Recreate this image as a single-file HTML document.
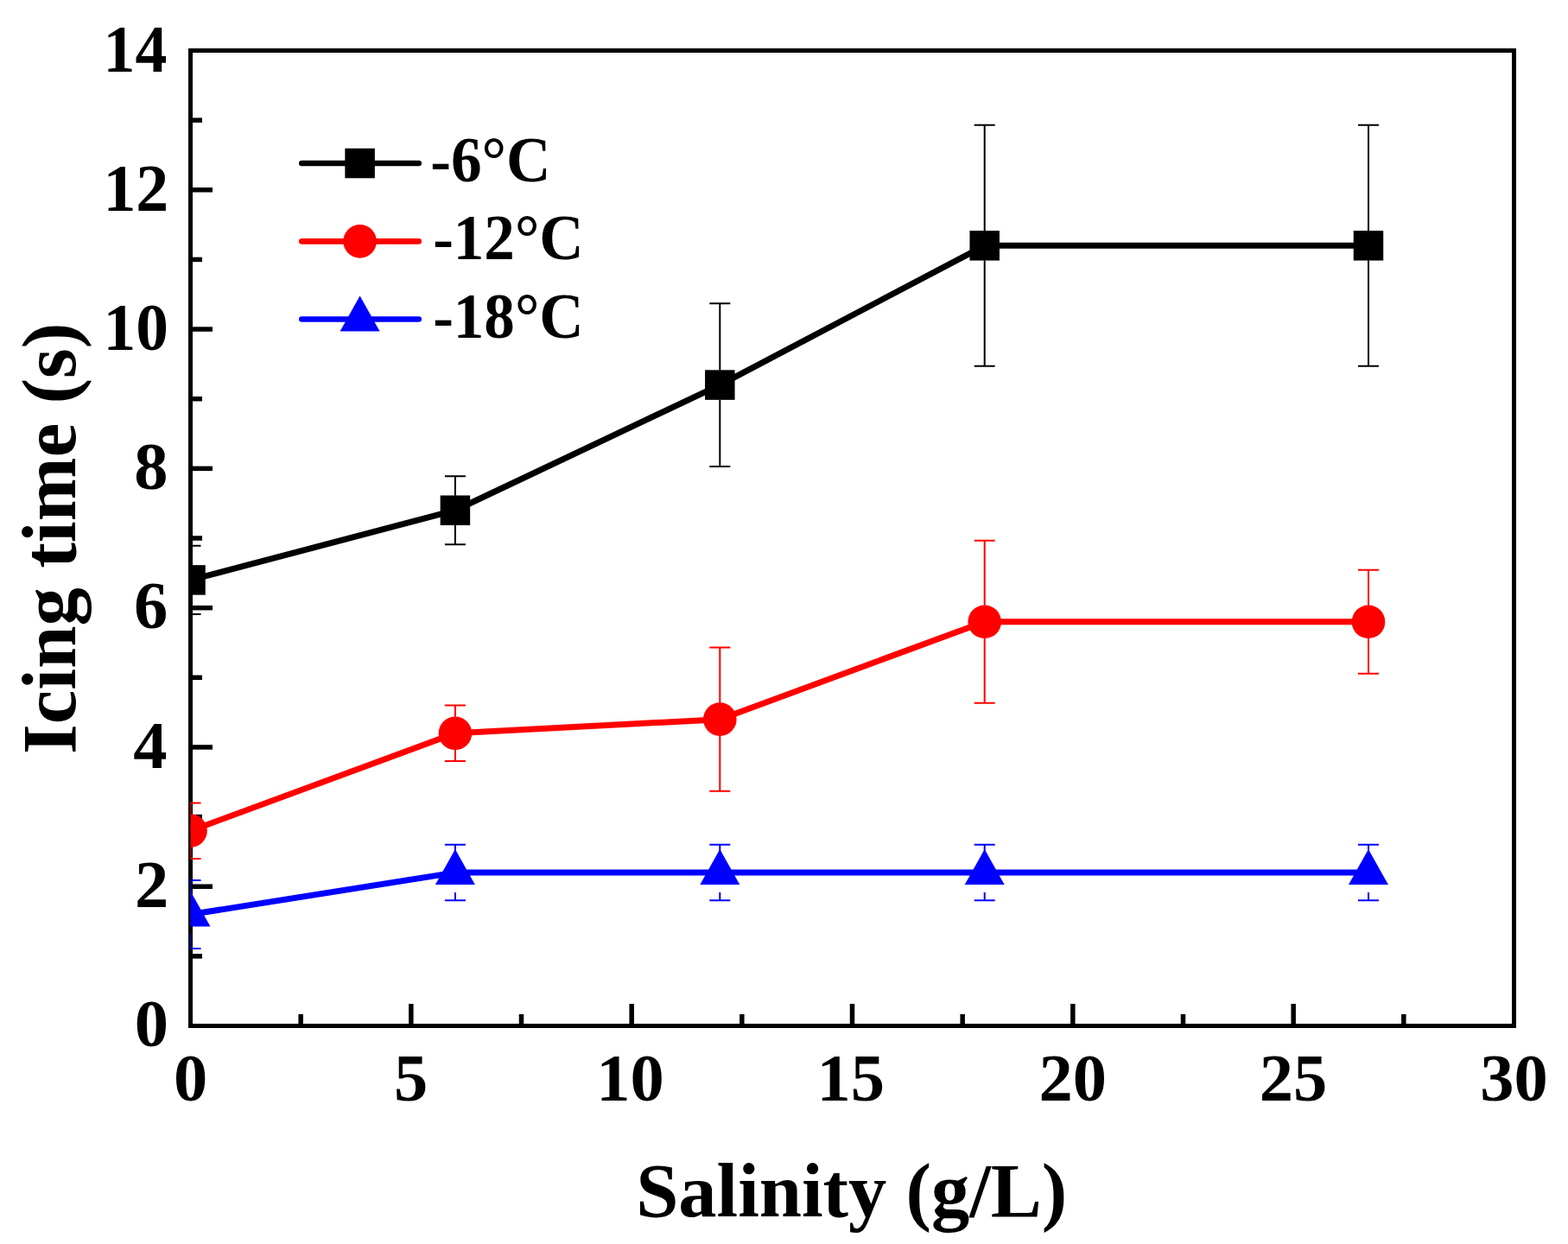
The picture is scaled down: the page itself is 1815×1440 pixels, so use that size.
<!DOCTYPE html><html><head><meta charset="utf-8"><style>html,body{margin:0;padding:0;background:#fff;overflow:hidden;}svg{display:block;}text{font-family:"Liberation Serif","Times New Roman",serif;font-weight:bold;fill:#000;}</style></head><body>
<svg width="1815" height="1440" viewBox="0 0 1815 1440">
<rect width="1815" height="1440" fill="#fff"/>
<defs><clipPath id="pc"><rect x="220.5" y="58.5" width="1532.0" height="1129.0"/></clipPath></defs>
<g stroke="#000" fill="none">
<rect x="220.5" y="58.5" width="1532.0" height="1129.0" stroke-width="5"/>
<line x1="220.5" y1="1106.86" x2="234.00" y2="1106.86" stroke-width="5.5"/>
<line x1="220.5" y1="1026.21" x2="246.00" y2="1026.21" stroke-width="5.5"/>
<line x1="220.5" y1="945.57" x2="234.00" y2="945.57" stroke-width="5.5"/>
<line x1="220.5" y1="864.93" x2="246.00" y2="864.93" stroke-width="5.5"/>
<line x1="220.5" y1="784.29" x2="234.00" y2="784.29" stroke-width="5.5"/>
<line x1="220.5" y1="703.64" x2="246.00" y2="703.64" stroke-width="5.5"/>
<line x1="220.5" y1="623.00" x2="234.00" y2="623.00" stroke-width="5.5"/>
<line x1="220.5" y1="542.36" x2="246.00" y2="542.36" stroke-width="5.5"/>
<line x1="220.5" y1="461.71" x2="234.00" y2="461.71" stroke-width="5.5"/>
<line x1="220.5" y1="381.07" x2="246.00" y2="381.07" stroke-width="5.5"/>
<line x1="220.5" y1="300.43" x2="234.00" y2="300.43" stroke-width="5.5"/>
<line x1="220.5" y1="219.79" x2="246.00" y2="219.79" stroke-width="5.5"/>
<line x1="220.5" y1="139.14" x2="234.00" y2="139.14" stroke-width="5.5"/>
<line x1="348.17" y1="1187.5" x2="348.17" y2="1174.00" stroke-width="5.5"/>
<line x1="475.83" y1="1187.5" x2="475.83" y2="1162.00" stroke-width="5.5"/>
<line x1="603.50" y1="1187.5" x2="603.50" y2="1174.00" stroke-width="5.5"/>
<line x1="731.17" y1="1187.5" x2="731.17" y2="1162.00" stroke-width="5.5"/>
<line x1="858.83" y1="1187.5" x2="858.83" y2="1174.00" stroke-width="5.5"/>
<line x1="986.50" y1="1187.5" x2="986.50" y2="1162.00" stroke-width="5.5"/>
<line x1="1114.17" y1="1187.5" x2="1114.17" y2="1174.00" stroke-width="5.5"/>
<line x1="1241.83" y1="1187.5" x2="1241.83" y2="1162.00" stroke-width="5.5"/>
<line x1="1369.50" y1="1187.5" x2="1369.50" y2="1174.00" stroke-width="5.5"/>
<line x1="1497.17" y1="1187.5" x2="1497.17" y2="1162.00" stroke-width="5.5"/>
<line x1="1624.83" y1="1187.5" x2="1624.83" y2="1174.00" stroke-width="5.5"/>
</g>
<g clip-path="url(#pc)">
<path d="M220.50 631.87V654.39M220.50 688.39V710.90M208.50 631.87H232.50M208.50 710.90H232.50" stroke="#000000" stroke-width="2" fill="none"/>
<path d="M526.90 551.23V573.74M526.90 607.74V630.26M514.90 551.23H538.90M514.90 630.26H538.90" stroke="#000000" stroke-width="2" fill="none"/>
<path d="M833.30 351.23V428.59M833.30 462.59V539.94M821.30 351.23H845.30M821.30 539.94H845.30" stroke="#000000" stroke-width="2" fill="none"/>
<path d="M1139.70 144.79V267.30M1139.70 301.30V423.81M1127.70 144.79H1151.70M1127.70 423.81H1151.70" stroke="#000000" stroke-width="2" fill="none"/>
<path d="M1583.98 144.79V267.30M1583.98 301.30V423.81M1571.98 144.79H1595.98M1571.98 423.81H1595.98" stroke="#000000" stroke-width="2" fill="none"/>
<polyline points="220.50,671.39 526.90,590.74 833.30,445.59 1139.70,284.30 1583.98,284.30" stroke="#000000" stroke-width="7" fill="none" stroke-linejoin="round"/>
<rect x="203.25" y="654.14" width="34.5" height="34.5" fill="#000000"/>
<rect x="509.65" y="573.49" width="34.5" height="34.5" fill="#000000"/>
<rect x="816.05" y="428.34" width="34.5" height="34.5" fill="#000000"/>
<rect x="1122.45" y="267.05" width="34.5" height="34.5" fill="#000000"/>
<rect x="1566.73" y="267.05" width="34.5" height="34.5" fill="#000000"/>
</g>
<g clip-path="url(#pc)">
<path d="M220.50 929.44V942.70M220.50 980.70V993.96M208.50 929.44H232.50M208.50 993.96H232.50" stroke="#ff0000" stroke-width="2" fill="none"/>
<path d="M526.90 816.54V829.80M526.90 867.80V881.06M514.90 816.54H538.90M514.90 881.06H538.90" stroke="#ff0000" stroke-width="2" fill="none"/>
<path d="M833.30 749.61V813.67M833.30 851.67V915.73M821.30 749.61H845.30M821.30 915.73H845.30" stroke="#ff0000" stroke-width="2" fill="none"/>
<path d="M1139.70 625.74V700.77M1139.70 738.77V813.80M1127.70 625.74H1151.70M1127.70 813.80H1151.70" stroke="#ff0000" stroke-width="2" fill="none"/>
<path d="M1583.98 659.77V700.77M1583.98 738.77V779.77M1571.98 659.77H1595.98M1571.98 779.77H1595.98" stroke="#ff0000" stroke-width="2" fill="none"/>
<polyline points="220.50,961.70 526.90,848.80 833.30,832.67 1139.70,719.77 1583.98,719.77" stroke="#ff0000" stroke-width="7" fill="none" stroke-linejoin="round"/>
<circle cx="220.50" cy="961.70" r="19.3" fill="#ff0000"/>
<circle cx="526.90" cy="848.80" r="19.3" fill="#ff0000"/>
<circle cx="833.30" cy="832.67" r="19.3" fill="#ff0000"/>
<circle cx="1139.70" cy="719.77" r="19.3" fill="#ff0000"/>
<circle cx="1583.98" cy="719.77" r="19.3" fill="#ff0000"/>
</g>
<g clip-path="url(#pc)">
<path d="M220.50 1018.96V1035.47M220.50 1081.47V1097.99M208.50 1018.96H232.50M208.50 1097.99H232.50" stroke="#0000ff" stroke-width="2" fill="none"/>
<path d="M526.90 977.83V987.09M526.90 1033.09V1042.34M514.90 977.83H538.90M514.90 1042.34H538.90" stroke="#0000ff" stroke-width="2" fill="none"/>
<path d="M833.30 977.83V987.09M833.30 1033.09V1042.34M821.30 977.83H845.30M821.30 1042.34H845.30" stroke="#0000ff" stroke-width="2" fill="none"/>
<path d="M1139.70 977.83V987.09M1139.70 1033.09V1042.34M1127.70 977.83H1151.70M1127.70 1042.34H1151.70" stroke="#0000ff" stroke-width="2" fill="none"/>
<path d="M1583.98 977.83V987.09M1583.98 1033.09V1042.34M1571.98 977.83H1595.98M1571.98 1042.34H1595.98" stroke="#0000ff" stroke-width="2" fill="none"/>
<polyline points="220.50,1058.47 526.90,1010.09 833.30,1010.09 1139.70,1010.09 1583.98,1010.09" stroke="#0000ff" stroke-width="7" fill="none" stroke-linejoin="round"/>
<polygon points="220.50,1031.47 243.50,1072.47 197.50,1072.47" fill="#0000ff"/>
<polygon points="526.90,983.09 549.90,1024.09 503.90,1024.09" fill="#0000ff"/>
<polygon points="833.30,983.09 856.30,1024.09 810.30,1024.09" fill="#0000ff"/>
<polygon points="1139.70,983.09 1162.70,1024.09 1116.70,1024.09" fill="#0000ff"/>
<polygon points="1583.98,983.09 1606.98,1024.09 1560.98,1024.09" fill="#0000ff"/>
</g>
<line x1="349.3" y1="189.0" x2="484.7" y2="189.0" stroke="#000000" stroke-width="6.6" stroke-linecap="round"/>
<rect x="399.35" y="171.75" width="34.5" height="34.5" fill="#000000"/>
<text x="498.19" y="209.88" font-size="73.5" textLength="139.34" lengthAdjust="spacingAndGlyphs">-6°C</text>
<line x1="349.3" y1="279.4" x2="484.7" y2="279.4" stroke="#ff0000" stroke-width="6.6" stroke-linecap="round"/>
<circle cx="416.60" cy="279.40" r="19.3" fill="#ff0000"/>
<text x="501.20" y="299.88" font-size="73.5" textLength="174.41" lengthAdjust="spacingAndGlyphs">-12°C</text>
<line x1="349.3" y1="369.5" x2="484.7" y2="369.5" stroke="#0000ff" stroke-width="6.6" stroke-linecap="round"/>
<polygon points="416.60,342.50 439.60,383.50 393.60,383.50" fill="#0000ff"/>
<text x="501.20" y="390.68" font-size="73.5" textLength="174.41" lengthAdjust="spacingAndGlyphs">-18°C</text>
<text x="155.74" y="1211.42" font-size="78.5">0</text>
<text x="156.12" y="1050.40" font-size="78.5">2</text>
<text x="154.21" y="888.96" font-size="78.5">4</text>
<text x="155.05" y="727.45" font-size="78.5">6</text>
<text x="155.36" y="566.28" font-size="78.5">8</text>
<text x="119.46" y="404.99" font-size="78.5" textLength="75.41" lengthAdjust="spacingAndGlyphs">10</text>
<text x="119.43" y="243.97" font-size="78.5" textLength="75.83" lengthAdjust="spacingAndGlyphs">12</text>
<text x="119.59" y="82.61" font-size="78.5" textLength="73.78" lengthAdjust="spacingAndGlyphs">14</text>
<text x="200.88" y="1274.12" font-size="78.5">0</text>
<text x="456.07" y="1273.72" font-size="78.5">5</text>
<text x="690.27" y="1274.12" font-size="78.5">10</text>
<text x="945.54" y="1273.93" font-size="78.5">15</text>
<text x="1202.43" y="1274.12" font-size="78.5">20</text>
<text x="1457.71" y="1274.00" font-size="78.5">25</text>
<text x="1713.27" y="1274.12" font-size="78.5">30</text>
<text x="736.14" y="1408.34" font-size="88.5">Salinity (g/L)</text>
<text transform="rotate(-90)" x="-872.98" y="87.45" font-size="89">Icing time (s)</text>
</svg></body></html>
